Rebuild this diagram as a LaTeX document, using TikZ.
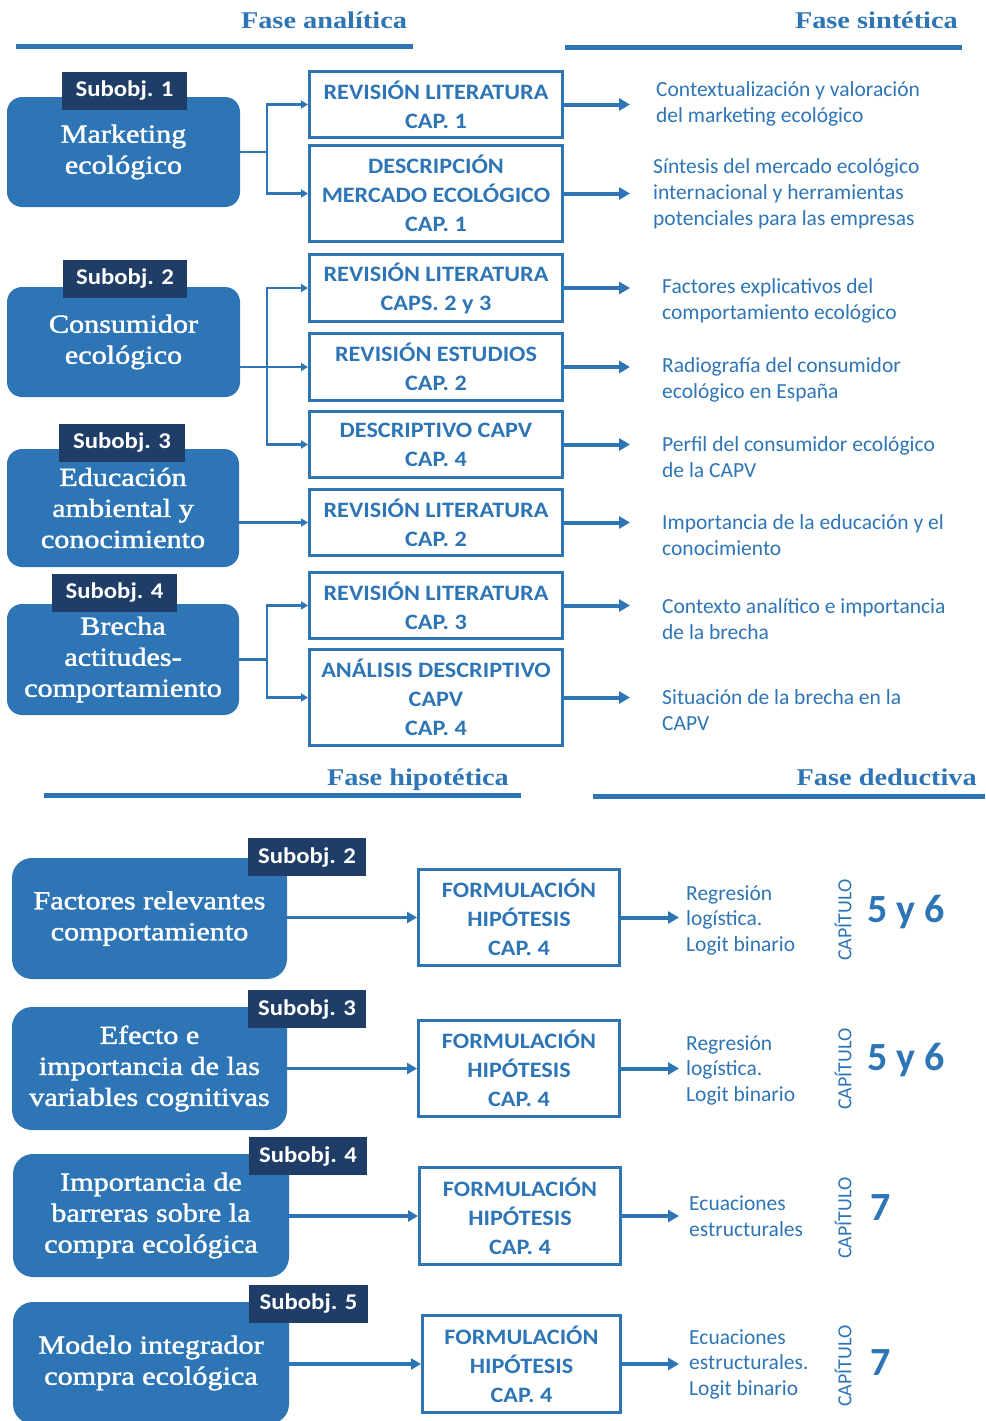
\documentclass[tikz,border=0pt]{standalone}
\usepackage{fontspec}
\setmainfont{Carlito}
\newfontfamily\boxsans[FakeStretch=1.1]{Carlito}
\newfontfamily\titleserif[FakeStretch=1.18]{Liberation Serif}
\newfontfamily\boxserif[FakeStretch=1.16,FakeBold=1.6]{Liberation Serif}
\usetikzlibrary{arrows.meta}

\definecolor{mainblue}{HTML}{2E75B6}
\definecolor{navy}{HTML}{1F3D66}

\tikzset{
  phase/.style={text=mainblue, inner sep=0pt, font=\titleserif\bfseries\fontsize{24}{28}\selectfont},
  phaseline/.style={draw=mainblue, line width=5pt},
  objbox/.style={fill=mainblue, rounded corners=15pt, text=white, align=center, inner sep=0pt,
    font=\boxserif\fontsize{26}{31}\selectfont},
  hypbox/.style={objbox, rounded corners=20pt},
  tagbox/.style={fill=navy, text=white, inner sep=0pt, minimum height=38pt,
    font=\boxsans\bfseries\fontsize{22.5}{26}\selectfont},
  stepbox/.style={draw=mainblue, line width=3pt, fill=white, text=mainblue, align=center, inner sep=0pt,
    font=\boxsans\bfseries\fontsize{22}{29}\selectfont},
  result/.style={text=mainblue, anchor=west, align=left, inner sep=0pt,
    font=\fontsize{21.5}{26}\selectfont},
  method/.style={result, font=\fontsize{21.5}{25.5}\selectfont},
  capword/.style={text=mainblue, rotate=90, inner sep=0pt, font=\fontsize{20}{24}\selectfont},
  bignum/.style={text=mainblue, anchor=base west, inner sep=0pt, font=\bfseries\fontsize{40}{44}\selectfont},
  link/.style={draw=mainblue, line width=2.5pt},
  linkarrow/.style={link, -{Triangle[length=7pt,width=8pt]}},
  outarrow/.style={draw=mainblue, line width=4pt, -{Triangle[length=11pt,width=12pt]}},
  inarrow/.style={draw=mainblue, line width=3.2pt, -{Triangle[length=10pt,width=11pt]}},
}

\begin{document}
\begin{tikzpicture}[x=1pt,y=-1pt]
\useasboundingbox (0,0) rectangle (985,1421);
\clip (0,0) rectangle (985,1421);
\fill[white] (0,0) rectangle (985,1421);

% ---------- phase headings ----------
\node[phase, anchor=base] (ph1) at (324,29) {Fase analítica};
\node[phase, anchor=base east] (ph2) at (958,29) {Fase sintética};
\draw[phaseline] (16,46.5) -- (413,46.5);
\draw[phaseline] (565,48) -- (962,48);

\node[phase, anchor=base] (ph3) at (418,785) {Fase hipotética};
\node[phase, anchor=base east] (ph4) at (977,785) {Fase deductiva};
\draw[phaseline] (44,795) -- (521,795);
\draw[phaseline] (593,796) -- (985,796);

% ---------- analytic phase: sub-objectives ----------
\node[objbox, minimum width=233pt, minimum height=110pt] (obj1) at (123.5,152) {Marketing\\ecológico};
\node[objbox, minimum width=233pt, minimum height=110pt] (obj2) at (123.5,342) {Consumidor\\ecológico};
\node[objbox, minimum width=232pt, minimum height=118pt] (obj3) at (123,508) {Educación\\ambiental y\\conocimiento};
\node[objbox, minimum width=232pt, minimum height=111pt] (obj4) at (123,659.5) {Brecha\\actitudes-\\comportamiento};

\node[tagbox, minimum width=125pt] (tag1) at (124.5,91) {Subobj. 1};
\node[tagbox, minimum width=124pt] (tag2) at (125,279) {Subobj. 2};
\node[tagbox, minimum width=126pt] (tag3) at (122,442.5) {Subobj. 3};
\node[tagbox, minimum width=125pt] (tag4) at (114.5,592.5) {Subobj. 4};

% ---------- analytic phase: sources ----------
\node[stepbox, minimum width=253pt, minimum height=66pt] (a1) at (436,104.5) {REVISIÓN LITERATURA\\CAP. 1};
\node[stepbox, minimum width=253pt, minimum height=96pt] (a2) at (436,193.5) {DESCRIPCIÓN\\MERCADO ECOLÓGICO\\CAP. 1};
\node[stepbox, minimum width=253pt, minimum height=67pt] (b1) at (436,288) {REVISIÓN LITERATURA\\CAPS. 2 y 3};
\node[stepbox, minimum width=253pt, minimum height=67pt] (b2) at (436,367) {REVISIÓN ESTUDIOS\\CAP. 2};
\node[stepbox, minimum width=253pt, minimum height=66pt] (b3) at (436,444.5) {DESCRIPTIVO CAPV\\CAP. 4};
\node[stepbox, minimum width=253pt, minimum height=66pt] (c1) at (436,522.5) {REVISIÓN LITERATURA\\CAP. 2};
\node[stepbox, minimum width=253pt, minimum height=66pt] (d1) at (436,605.5) {REVISIÓN LITERATURA\\CAP. 3};
\node[stepbox, minimum width=253pt, minimum height=96pt] (d2) at (436,697.5) {ANÁLISIS DESCRIPTIVO\\CAPV\\CAP. 4};

% branching points and arrow ends
\coordinate (j1) at (267,0);
\coordinate (tipx) at (630,0);

% connectors from sub-objectives to sources
\draw[link] (obj1.east) -- (obj1.east -| j1);
\draw[linkarrow] (obj1.east -| j1) |- (a1.west);
\draw[linkarrow] (obj1.east -| j1) |- (a2.west);

\draw[linkarrow] (obj2.east |- b2.west) -- (b2.west);
\draw[linkarrow] (j1 |- b2.west) |- (b1.west);
\draw[linkarrow] (j1 |- b2.west) |- (b3.west);

\draw[linkarrow] (obj3.east |- c1.west) -- (c1.west);

\draw[link] (obj4.east) -- (obj4.east -| j1);
\draw[linkarrow] (obj4.east -| j1) |- (d1.west);
\draw[linkarrow] (obj4.east -| j1) |- (d2.west);

% ---------- synthetic phase: outcomes ----------
\foreach \s in {a1,a2,b1,b2,b3,c1,d1,d2}
  \draw[outarrow] (\s.east) -- (\s.east -| tipx);

\node[result] (res1) at (656,104) {Contextualización y valoración\\del marketing ecológico};
\node[result] (res2) at (653,193.5) {Síntesis del mercado ecológico\\internacional y herramientas\\potenciales para las empresas};
\node[result] (res3) at (662,301) {Factores explicativos del\\comportamiento ecológico};
\node[result] (res4) at (662,380) {Radiografía del consumidor\\ecológico en España};
\node[result] (res5) at (662,457) {Perfil del consumidor ecológico\\de la CAPV};
\node[result] (res6) at (662,535) {Importancia de la educación y el\\conocimiento};
\node[result] (res7) at (662,619) {Contexto analítico e importancia\\de la brecha};
\node[result] (res8) at (662,710) {Situación de la brecha en la\\CAPV};

% ---------- hypothetical phase ----------
\node[hypbox, minimum width=275pt, minimum height=121pt] (hyp1) at (149.5,918.5) {Factores relevantes\\comportamiento};
\node[hypbox, minimum width=275pt, minimum height=123pt] (hyp2) at (149.5,1068.5) {Efecto e\\importancia de las\\variables cognitivas};
\node[hypbox, minimum width=276pt, minimum height=123pt] (hyp3) at (151,1215.5) {Importancia de\\barreras sobre la\\compra ecológica};
\node[hypbox, minimum width=276pt, minimum height=122pt] (hyp4) at (151,1363) {Modelo integrador\\compra ecológica};

\node[tagbox, minimum width=118pt] (htag2) at (307,857) {Subobj. 2};
\node[tagbox, minimum width=118pt] (htag3) at (307,1009) {Subobj. 3};
\node[tagbox, minimum width=118pt] (htag4) at (308,1156) {Subobj. 4};
\node[tagbox, minimum width=119pt] (htag5) at (308.5,1303.5) {Subobj. 5};

\node[stepbox, minimum width=201pt, minimum height=96pt] (form1) at (519,917.5) {FORMULACIÓN\\HIPÓTESIS\\CAP. 4};
\node[stepbox, minimum width=201pt, minimum height=96pt] (form2) at (519,1068.5) {FORMULACIÓN\\HIPÓTESIS\\CAP. 4};
\node[stepbox, minimum width=201pt, minimum height=97pt] (form3) at (520,1216) {FORMULACIÓN\\HIPÓTESIS\\CAP. 4};
\node[stepbox, minimum width=198pt, minimum height=97pt] (form4) at (521.5,1364) {FORMULACIÓN\\HIPÓTESIS\\CAP. 4};

\foreach \i in {1,2,3,4}
  \draw[inarrow] (hyp\i.east |- form\i.west) -- (form\i.west);

% ---------- deductive phase ----------
\coordinate (btip) at (679,0);
\foreach \i in {1,2,3,4}
  \draw[outarrow] (form\i.east) -- (form\i.east -| btip);

\node[method] (meth1) at (686,920) {Regresión\\logística.\\Logit binario};
\node[method] (meth2) at (686,1070) {Regresión\\logística.\\Logit binario};
\node[method] (meth3) at (689,1216) {Ecuaciones\\estructurales};
\node[method] (meth4) at (689,1364) {Ecuaciones\\estructurales.\\Logit binario};

\node[capword] (cap1) at (843,920) {CAPÍTULO};
\node[capword] (cap2) at (843,1069) {CAPÍTULO};
\node[capword] (cap3) at (843,1218) {CAPÍTULO};
\node[capword] (cap4) at (843,1366) {CAPÍTULO};

\node[bignum] (num1) at (867,922) {5 y 6};
\node[bignum] (num2) at (867,1070) {5 y 6};
\node[bignum] (num3) at (870,1220) {7};
\node[bignum] (num4) at (870,1375) {7};
\end{tikzpicture}
\end{document}
